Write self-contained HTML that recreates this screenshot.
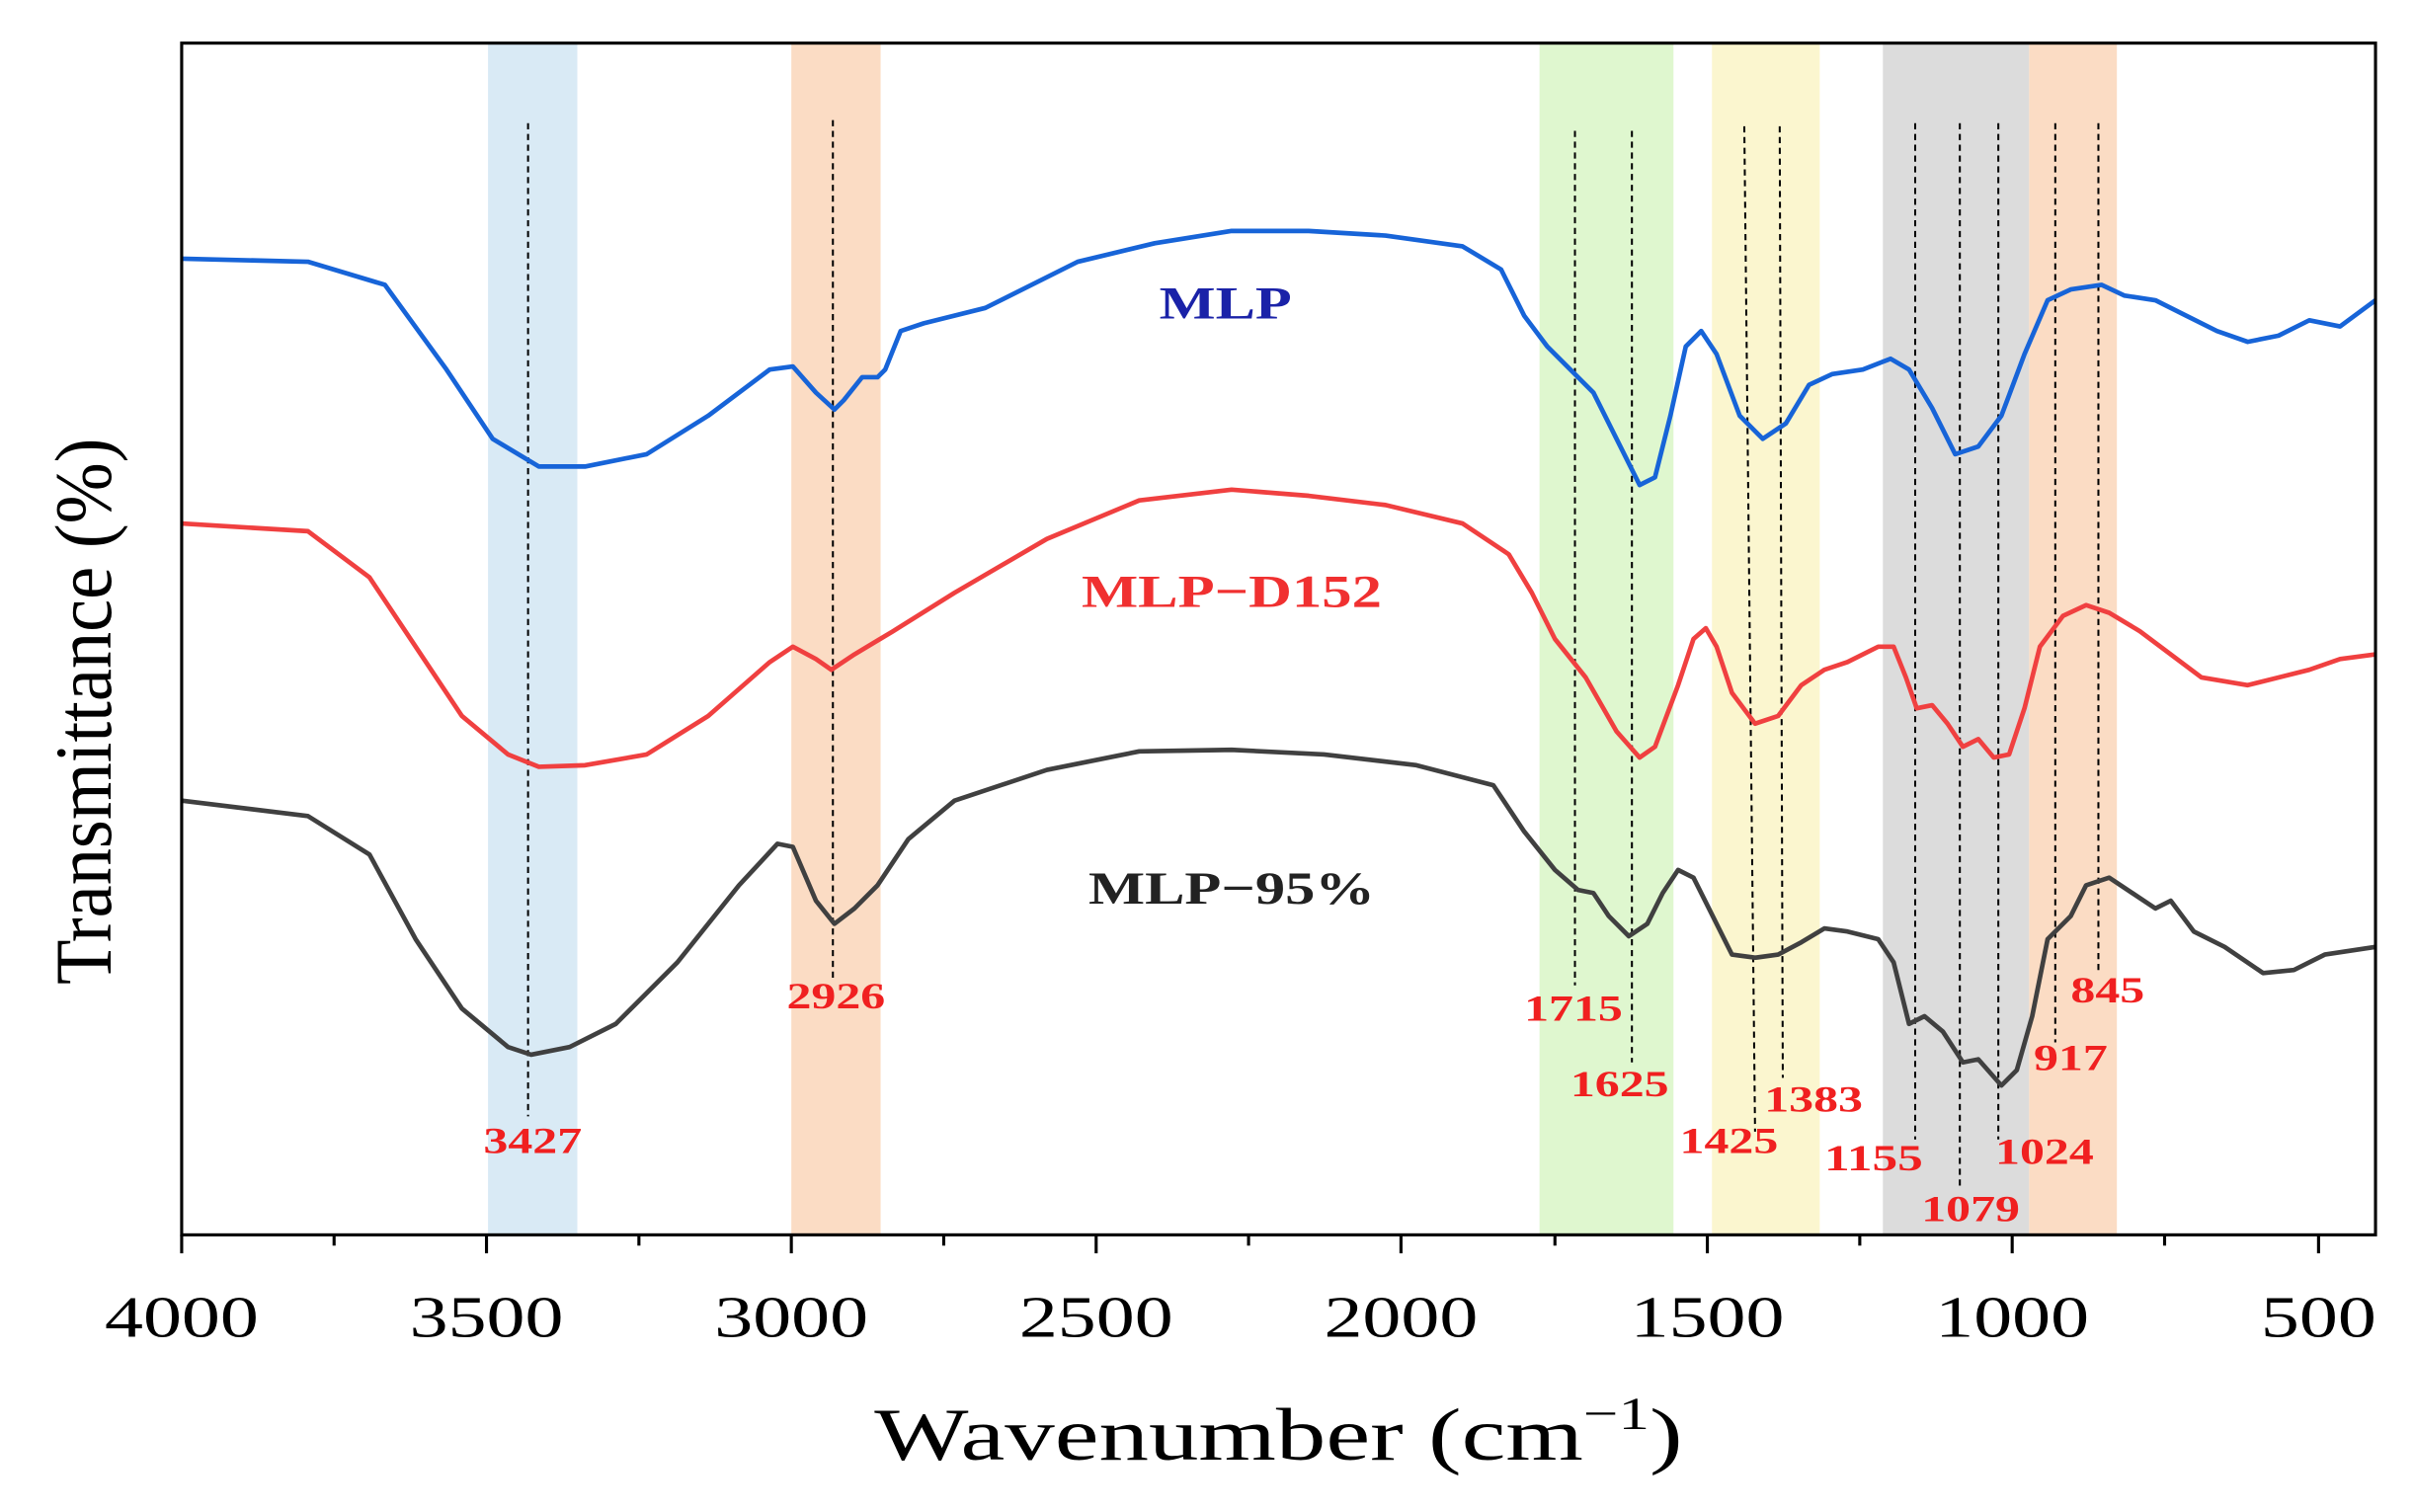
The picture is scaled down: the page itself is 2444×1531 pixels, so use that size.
<!DOCTYPE html>
<html><head><meta charset="utf-8"><style>
html,body{margin:0;padding:0;background:#fff;}
svg{display:block;}
text{font-family:"Liberation Serif",serif;}
</style></head><body>
<svg width="2444" height="1531" viewBox="0 0 1568 982" preserveAspectRatio="none" xmlns="http://www.w3.org/2000/svg">
<rect width="1568" height="982" fill="#fff"/>
<rect x="317" y="28" width="58" height="774" fill="#d9eaf5"/>
<rect x="514" y="28" width="58" height="774" fill="#fbdcc4"/>
<rect x="1000" y="28" width="87" height="774" fill="#dff7cf"/>
<rect x="1112" y="28" width="70" height="774" fill="#fbf6cf"/>
<rect x="1223" y="28" width="95" height="774" fill="#dcdcdc"/>
<rect x="1318" y="28" width="57" height="774" fill="#fbdcc4"/>
<g stroke="#000" stroke-width="1.3" stroke-dasharray="4,3" fill="none">
<line x1="343" y1="80" x2="343" y2="725"/>
<line x1="541" y1="78" x2="541" y2="635"/>
<line x1="1023" y1="85" x2="1023" y2="640"/>
<line x1="1060" y1="85" x2="1060" y2="690"/>
<line x1="1133" y1="82" x2="1140" y2="735"/>
<line x1="1156" y1="82" x2="1158" y2="700"/>
<line x1="1244" y1="80" x2="1244" y2="740"/>
<line x1="1273" y1="80" x2="1273" y2="770"/>
<line x1="1298" y1="80" x2="1298" y2="740"/>
<line x1="1335" y1="80" x2="1335" y2="677"/>
<line x1="1363" y1="80" x2="1363" y2="630"/>
</g>
<g fill="none" stroke-width="3" stroke-linejoin="round">
<polyline stroke="#1764d8" points="118,168 200,170 250,185 290,240 320,285 350,303 380,303 420,295 460,270 500,240 515,238 530,255 542,266 548,260 560,245 570,245 575,240 585,215 600,210 640,200 700,170 750,158 800,150 850,150 900,153 950,160 975,175 990,205 1005,225 1020,240 1035,255 1050,285 1065,315 1075,310 1085,270 1095,225 1105,215 1115,230 1130,270 1145,285 1160,275 1175,250 1190,243 1210,240 1228,233 1240,240 1255,265 1270,295 1285,290 1300,270 1315,230 1330,195 1345,188 1365,185 1380,192 1400,195 1420,205 1440,215 1460,222 1480,218 1500,208 1520,212 1543,195"/>
<polyline stroke="#f04040" points="118,340 200,345 240,375 270,420 300,465 330,490 350,498 380,497 420,490 460,465 500,430 515,420 530,428 540,435 555,425 580,410 620,385 680,350 740,325 800,318 850,322 900,328 950,340 980,360 995,385 1010,415 1030,440 1050,475 1065,492 1075,485 1090,445 1100,415 1108,408 1115,420 1125,450 1140,470 1155,465 1170,445 1185,435 1200,430 1220,420 1230,420 1238,440 1245,460 1255,458 1265,470 1275,485 1285,480 1295,492 1305,490 1315,460 1325,420 1340,400 1355,393 1370,398 1390,410 1410,425 1430,440 1460,445 1480,440 1500,435 1520,428 1543,425"/>
<polyline stroke="#404040" points="118,520 200,530 240,555 270,610 300,655 330,680 345,685 370,680 400,665 440,625 480,575 505,548 515,550 530,585 542,600 555,590 570,575 590,545 620,520 680,500 740,488 800,487 860,490 920,497 970,510 990,540 1010,565 1025,578 1035,580 1045,595 1058,608 1070,600 1080,580 1090,565 1100,570 1110,590 1125,620 1140,622 1155,620 1170,612 1185,603 1200,605 1220,610 1230,625 1240,665 1250,660 1262,670 1275,690 1285,688 1300,705 1310,695 1320,660 1330,610 1345,595 1355,575 1370,570 1385,580 1400,590 1410,585 1425,605 1445,615 1470,632 1490,630 1510,620 1543,615"/>
</g>
<rect x="118" y="28" width="1425" height="774" fill="none" stroke="#000" stroke-width="2"/>
<g stroke="#000" stroke-width="2">
<line x1="118" y1="802" x2="118" y2="814"/><line x1="316" y1="802" x2="316" y2="814"/><line x1="514" y1="802" x2="514" y2="814"/><line x1="712" y1="802" x2="712" y2="814"/><line x1="910" y1="802" x2="910" y2="814"/><line x1="1109" y1="802" x2="1109" y2="814"/><line x1="1307" y1="802" x2="1307" y2="814"/><line x1="1506" y1="802" x2="1506" y2="814"/>
<line x1="217" y1="802" x2="217" y2="809"/><line x1="415" y1="802" x2="415" y2="809"/><line x1="613" y1="802" x2="613" y2="809"/><line x1="811" y1="802" x2="811" y2="809"/><line x1="1010" y1="802" x2="1010" y2="809"/><line x1="1208" y1="802" x2="1208" y2="809"/><line x1="1406" y1="802" x2="1406" y2="809"/>
</g>
<g font-size="38" text-anchor="middle" fill="#000" lengthAdjust="spacingAndGlyphs">
<text x="118" y="868" textLength="100" lengthAdjust="spacingAndGlyphs">4000</text><text x="316" y="868" textLength="100" lengthAdjust="spacingAndGlyphs">3500</text><text x="514" y="868" textLength="100" lengthAdjust="spacingAndGlyphs">3000</text><text x="712" y="868" textLength="100" lengthAdjust="spacingAndGlyphs">2500</text><text x="910" y="868" textLength="100" lengthAdjust="spacingAndGlyphs">2000</text><text x="1109" y="868" textLength="100" lengthAdjust="spacingAndGlyphs">1500</text><text x="1307" y="868" textLength="100" lengthAdjust="spacingAndGlyphs">1000</text><text x="1506" y="868" textLength="75" lengthAdjust="spacingAndGlyphs">500</text>
</g>
<text x="568" y="948" font-size="48" textLength="525" lengthAdjust="spacingAndGlyphs">Wavenumber (cm<tspan dy="-20" font-size="30">−1</tspan><tspan dy="20">)</tspan></text>
<text transform="translate(72,462) rotate(-90)" font-size="52" text-anchor="middle" textLength="355" lengthAdjust="spacingAndGlyphs">Transmittance (%)</text>
<g font-size="30" font-weight="bold" text-anchor="middle">
<text x="796" y="207" fill="#1a22a8" textLength="86" lengthAdjust="spacingAndGlyphs">MLP</text>
<text x="800" y="394" fill="#f03030" textLength="195" lengthAdjust="spacingAndGlyphs">MLP−D152</text>
<text x="800" y="587" fill="#222" textLength="186" lengthAdjust="spacingAndGlyphs">MLP−95%</text>
</g>
<g font-size="24" font-weight="bold" fill="#f02020" text-anchor="middle">
<text x="346" y="749" textLength="64" lengthAdjust="spacingAndGlyphs">3427</text>
<text x="543" y="655" textLength="64" lengthAdjust="spacingAndGlyphs">2926</text>
<text x="1022" y="663" textLength="64" lengthAdjust="spacingAndGlyphs">1715</text>
<text x="1052" y="712" textLength="64" lengthAdjust="spacingAndGlyphs">1625</text>
<text x="1123" y="749" textLength="64" lengthAdjust="spacingAndGlyphs">1425</text>
<text x="1178" y="722" textLength="64" lengthAdjust="spacingAndGlyphs">1383</text>
<text x="1217" y="760" textLength="64" lengthAdjust="spacingAndGlyphs">1155</text>
<text x="1280" y="793" textLength="64" lengthAdjust="spacingAndGlyphs">1079</text>
<text x="1328" y="756" textLength="64" lengthAdjust="spacingAndGlyphs">1024</text>
<text x="1345" y="695" textLength="48" lengthAdjust="spacingAndGlyphs">917</text>
<text x="1369" y="651" textLength="48" lengthAdjust="spacingAndGlyphs">845</text>
</g>
</svg>
</body></html>
